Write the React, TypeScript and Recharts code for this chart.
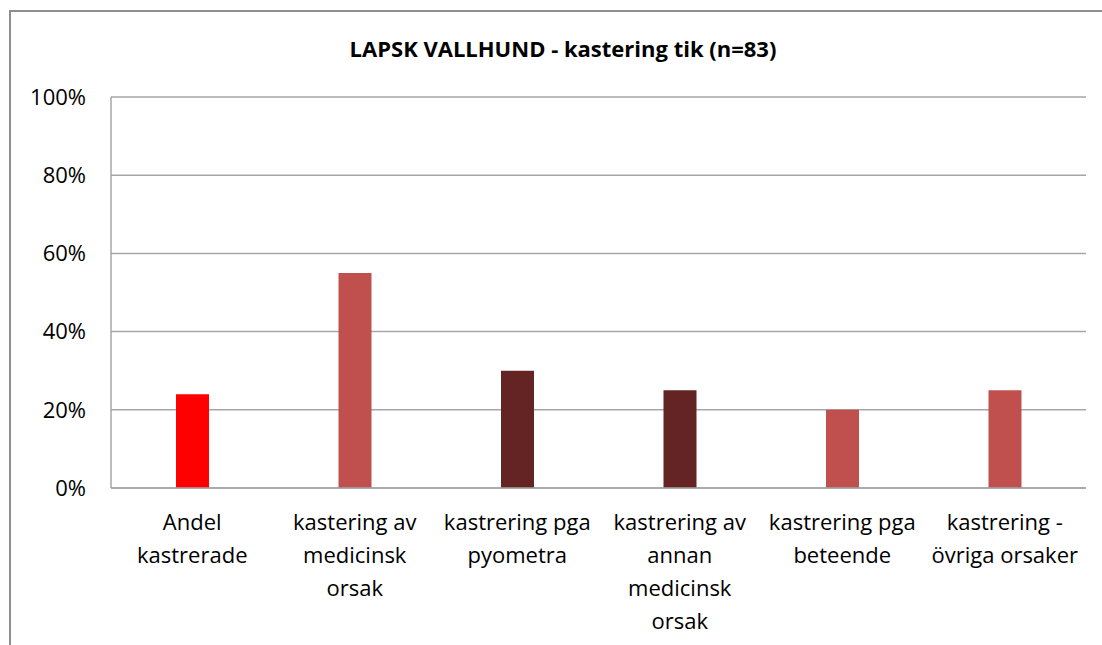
import { Bar, BarChart, CartesianGrid, Cell, XAxis, YAxis } from "recharts";

const CATEGORIES = [
  "Andel\nkastrerade",
  "kastering av\nmedicinsk\norsak",
  "kastrering pga\npyometra",
  "kastrering av\nannan\nmedicinsk\norsak",
  "kastrering pga\nbeteende",
  "kastrering -\növriga orsaker",
];
const VALUES = [24, 55, 30, 25, 20, 25];
const BAR_COLORS = ["#ff0000", "#c0504d", "#632423", "#632423", "#c0504d", "#c0504d"];
const Y_TICKS = [0, 20, 40, 60, 80, 100];

const FONT = "'Open Sans', 'Liberation Sans', sans-serif";
const GRID = "#a6a6a6";

const data = CATEGORIES.map((name, i) => ({ name, value: VALUES[i], color: BAR_COLORS[i] }));

function CategoryTick({ x, y, payload }: any) {
  const lines = String(payload.value).split("\n");
  return (
    <text x={x} y={y} textAnchor="middle" fill="#000" fontSize={22} fontFamily={FONT}>
      {lines.map((l, i) => (
        <tspan key={i} x={x} y={y + 34 + i * 33}>
          {l}
        </tspan>
      ))}
    </text>
  );
}

export default function App() {
  return (
    <div
      style={{
        position: "absolute",
        left: 0,
        top: 0,
        width: 1102,
        height: 645,
        overflow: "hidden",
        background: "#fff",
      }}
    >
      <div
        style={{
          position: "absolute",
          left: 9,
          top: 10,
          width: 1200,
          height: 800,
          border: "2px solid #8e8e8e",
        }}
      />
      <div
        style={{
          position: "absolute",
          left: 0,
          top: 33,
          width: 1126,
          textAlign: "center",
          fontFamily: FONT,
          fontWeight: "bold",
          fontSize: 22,
          color: "#000",
        }}
      >
        LAPSK VALLHUND - kastering tik (n=83)
      </div>
      <div style={{ position: "absolute", left: 0, top: 0 }}>
        <BarChart width={1102} height={645} data={data} margin={{ top: 97, right: 16, bottom: 7, left: 0 }}>
          <CartesianGrid vertical={false} stroke={GRID} strokeWidth={1.5} />
          <XAxis
            dataKey="name"
            interval={0}
            height={150}
            tickLine={false}
            axisLine={{ stroke: GRID, strokeWidth: 1.5 }}
            tick={<CategoryTick />}
          />
          <YAxis
            width={111}
            domain={[0, 100]}
            ticks={Y_TICKS}
            tickFormatter={(v: number) => `${v}%`}
            tickLine={false}
            tickMargin={19}
            axisLine={{ stroke: GRID, strokeWidth: 1.5 }}
            tick={{ fill: "#000", fontSize: 22, fontFamily: FONT }}
          />
          <Bar dataKey="value" barSize={33} isAnimationActive={false}>
            {data.map((d, i) => (
              <Cell key={i} fill={d.color} />
            ))}
          </Bar>
        </BarChart>
      </div>
    </div>
  );
}
